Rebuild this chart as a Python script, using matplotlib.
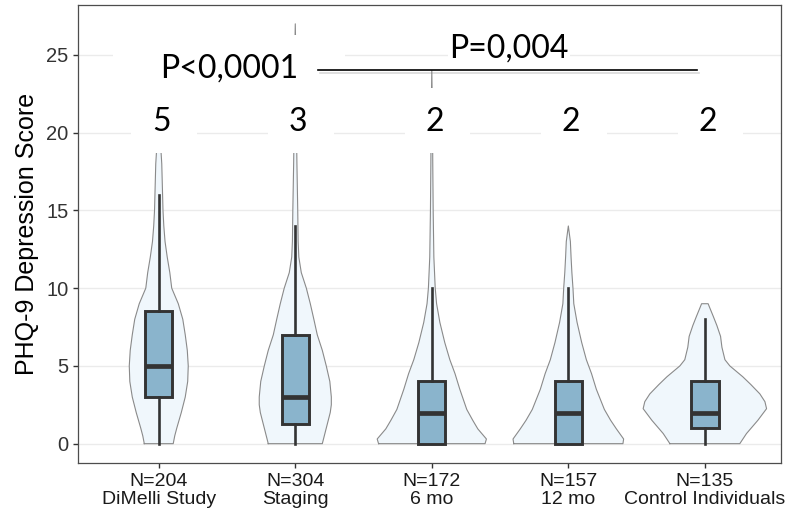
import matplotlib
matplotlib.use("Agg")
from matplotlib import pyplot as plt
from matplotlib.patches import Rectangle
import matplotlib.patheffects as pe
import numpy as np

# groups and tick labels
groups = ["DiMelli Study", "Staging", "6 mo", "12 mo", "Control Individuals"]
counts = [204, 304, 172, 157, 135]
median_labels = ["5", "3", "2", "2", "2"]

# box statistics
q1 = [3, 1.25, 0, 0, 1]
med = [5, 3, 2, 2, 2]
q3 = [8.5, 7, 4, 4, 4]
whis_lo = [0, 0, 0, 0, 0]
whis_hi = [16, 14, 10, 10, 8]

# violin outlines: score values and half-widths (x units)
dimelli_y = [0, 0.5, 1, 2, 3, 4, 5, 6, 7, 8, 9, 10, 11, 12, 13, 14, 15, 16, 17, 18, 19, 19.7]
dimelli_w = [0.106, 0.117, 0.132, 0.165, 0.194, 0.212, 0.216, 0.209, 0.194, 0.176, 0.143,
             0.095, 0.081, 0.062, 0.046, 0.037, 0.031, 0.028, 0.025, 0.022, 0.015, 0.0]
staging_y = [0, 1, 2, 2.5, 3, 4, 5, 6, 7, 8, 9, 10, 11, 12, 13, 15, 18, 20, 24, 27]
staging_w = [0.198, 0.227, 0.256, 0.264, 0.264, 0.253, 0.227, 0.198, 0.161, 0.136, 0.110,
             0.081, 0.044, 0.026, 0.021, 0.018, 0.012, 0.009, 0.006, 0.0]
mo6_y = [0, 0.3, 0.95, 1.5, 2.2, 3.5, 4.5, 5.4, 6.5, 7.8, 9, 10, 12, 15, 18, 21, 24]
mo6_w = [0.39, 0.40, 0.337, 0.30, 0.256, 0.205, 0.17, 0.132, 0.095, 0.059, 0.035, 0.025,
         0.015, 0.010, 0.007, 0.005, 0.0]
mo12_y = [0, 0.3, 0.95, 1.5, 2.2, 3.5, 4.5, 5.4, 6.5, 7.8, 9, 10, 11, 12, 13, 14]
mo12_w = [0.40, 0.405, 0.352, 0.31, 0.264, 0.205, 0.17, 0.132, 0.098, 0.064, 0.040, 0.034,
          0.026, 0.020, 0.015, 0.0]
control_y = [0, 0.65, 1.5, 2.25, 2.7, 3.2, 3.8, 4.3, 5.0, 5.4, 6.2, 6.9, 7.6, 8.2, 8.8, 9.0]
control_w = [0.256, 0.305, 0.388, 0.452, 0.44, 0.403, 0.337, 0.278, 0.183, 0.147, 0.125,
             0.115, 0.088, 0.061, 0.033, 0.024]

violins = [(dimelli_y, dimelli_w), (staging_y, staging_w), (mo6_y, mo6_w),
           (mo12_y, mo12_w), (control_y, control_w)]

p_left = "P<0,0001"
p_right = "P=0,004"

fig = plt.figure(figsize=(7.9, 5.18), dpi=100)
ax = fig.add_axes([0.099, 0.106, 0.89, 0.884])

pos = np.arange(1, len(groups) + 1)

for x, (vy, vw) in zip(pos, violins):
    vy = np.array(vy)
    vw = np.array(vw)
    ax.fill_betweenx(vy, x - vw, x + vw, facecolor="#F0F7FC", edgecolor="none", zorder=1)
    # outline (closed, with flat ends where trimmed)
    ox = np.concatenate([x - vw, (x + vw)[::-1], [x - vw[0]]])
    oy = np.concatenate([vy, vy[::-1], [vy[0]]])
    ax.plot(ox, oy, color="#8a8a8a", lw=0.8, zorder=1.5)

stats = []
for i in range(len(groups)):
    stats.append(dict(med=med[i], q1=q1[i], q3=q3[i], whislo=whis_lo[i], whishi=whis_hi[i], fliers=[]))

ax.bxp(stats, positions=pos, widths=0.2, showcaps=False, showfliers=False, patch_artist=True,
       boxprops=dict(facecolor="#8AB4CC", edgecolor="#333333", linewidth=2.1),
       medianprops=dict(color="#333333", linewidth=3.4, solid_capstyle="butt"),
       whiskerprops=dict(color="#333333", linewidth=1.9),
       zorder=2)

ax.set_xlim(0.41, 5.56)
ax.set_ylim(-1.25, 28.2)
ax.set_yticks([0, 5, 10, 15, 20, 25])
ax.set_xticks(pos)
ax.set_xticklabels([f"N={n}\n{g}" for n, g in zip(counts, groups)])
ax.yaxis.grid(True, color="#EBEBEB", lw=1.0)
ax.xaxis.grid(False)
ax.set_axisbelow(True)

for s in ax.spines.values():
    s.set_color("#4d4d4d")
    s.set_linewidth(0.9)

ax.tick_params(axis="both", colors="#333333", length=3.5, width=1.0)
for lab in ax.get_yticklabels():
    lab.set_fontfamily("Liberation Sans")
    lab.set_fontsize(14.5)
    lab.set_color("#333333")
for lab in ax.get_xticklabels():
    lab.set_fontfamily("Liberation Sans")
    lab.set_fontsize(14)
    lab.set_color("#1a1a1a")
    lab.set_linespacing(1.1)

ax.set_ylabel("PHQ-9 Depression Score", fontsize=18, family="Liberation Sans", labelpad=5)

# white overlay boxes hiding the violin tops, as in the slide
for x in pos:
    ax.add_patch(Rectangle((x - 0.2, 18.7), 0.48, 4.2, facecolor="white", edgecolor="none", zorder=3))
ax.add_patch(Rectangle((0.663, 22.9), 1.70, 3.4, facecolor="white", edgecolor="none", zorder=3))

for x, t in zip(pos, median_labels):
    ax.text(x + 0.02, 20.7, t, ha="center", va="center", fontsize=23, family="Lato", zorder=4)

ax.text(1.513, 24.15, p_left, ha="center", va="center", fontsize=23, family="Lato", zorder=4)
ax.text(3.564, 25.4, p_right, ha="center", va="center", fontsize=23, family="Lato", zorder=4,
        bbox=dict(facecolor="white", edgecolor="none", pad=1))
ax.plot([2.165, 4.94], [24.0, 24.0], color="black", lw=1.2, zorder=4,
        path_effects=[pe.SimpleLineShadow(offset=(1.5, -1.5), shadow_color="gray", alpha=0.3), pe.Normal()])

fig.savefig("out.png", dpi=100)
